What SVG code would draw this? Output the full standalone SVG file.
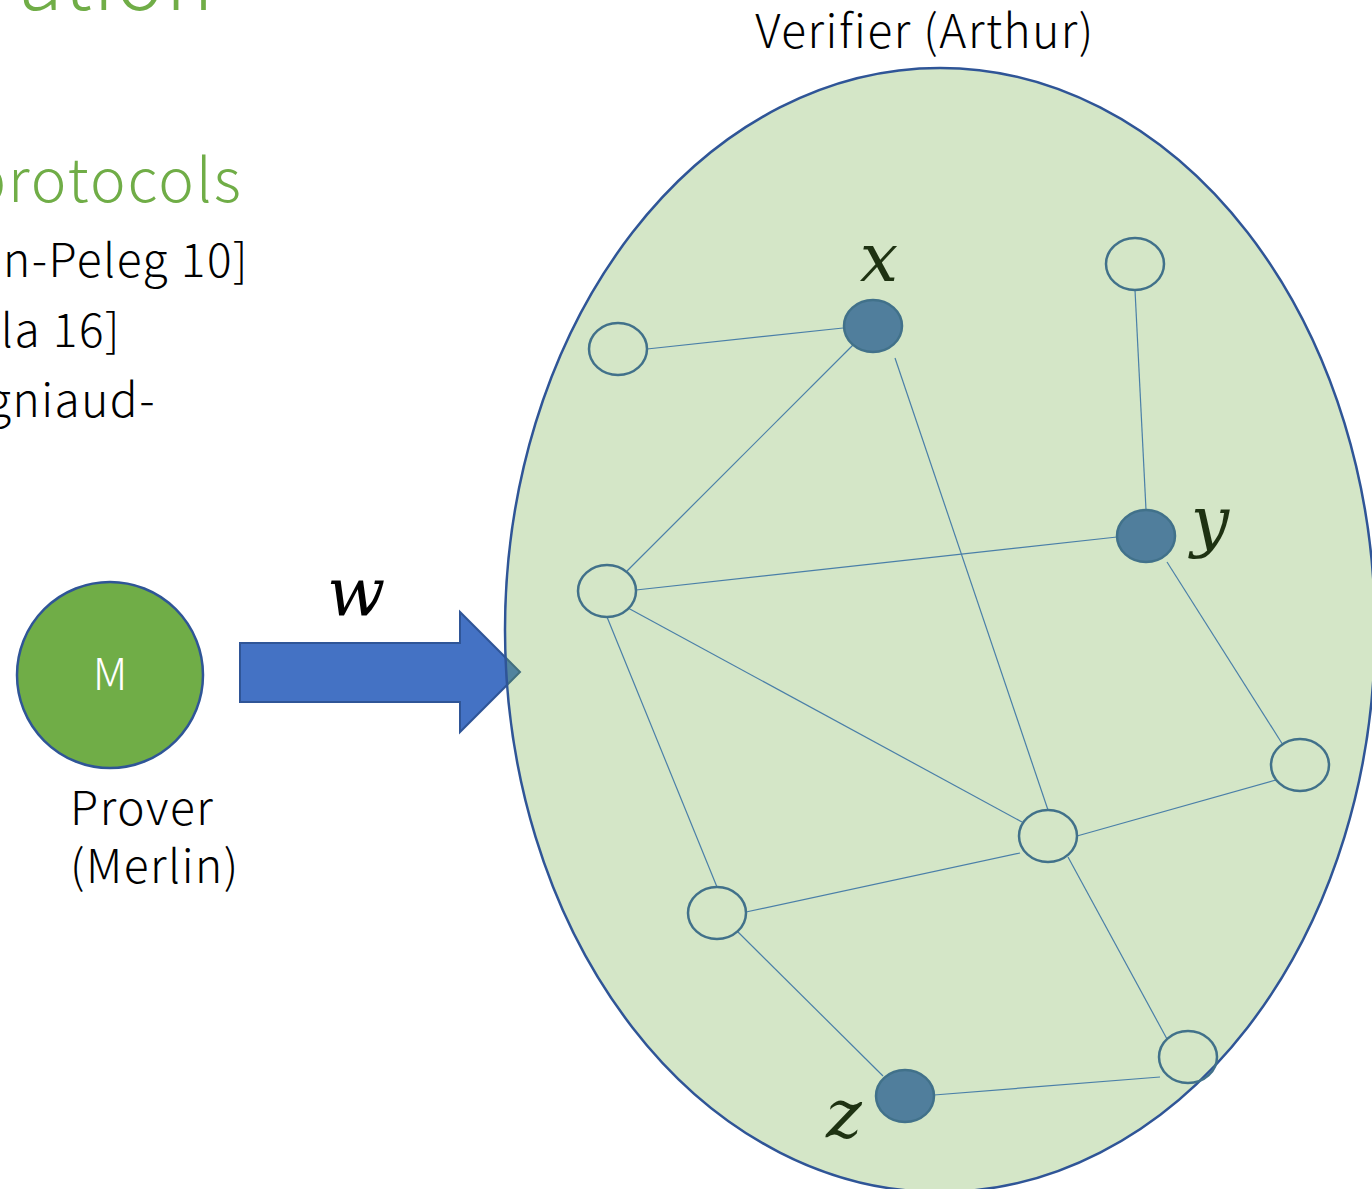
<svg xmlns="http://www.w3.org/2000/svg" width="1372" height="1189" viewBox="0 0 1372 1189">
<style>
.t{font-family:"Noto Sans CJK JP","Noto Sans",sans-serif;fill:#000;font-weight:300}
.g{font-family:"Noto Sans CJK JP","Noto Sans",sans-serif;fill:#70ad47;font-weight:300}
.m{font-family:"DejaVu Serif","Liberation Serif",serif;font-style:italic}
.e{stroke:#4a7fa8;stroke-width:1.2;fill:none}
.o{fill:none;stroke:#41718a;stroke-width:2.5}
.f{fill:#507e9c;stroke:#41718a;stroke-width:2.5}
</style>
<rect width="1372" height="1189" fill="#fff"/>
<g id="bg-text">
<text class="g" x="215" y="10" font-size="80" text-anchor="end" letter-spacing="2">ation</text>
<text class="g" x="243" y="202" font-size="60" text-anchor="end" letter-spacing="2">protocols</text>
<text class="t" x="249" y="277" font-size="46" text-anchor="end" letter-spacing="1.5">n-Peleg 10]</text>
<text class="t" x="121" y="347" font-size="46" text-anchor="end" letter-spacing="1.5">la 16]</text>
<text class="t" x="156" y="417" font-size="46" text-anchor="end" letter-spacing="1.5">gniaud-</text>
</g>
<g id="arrow">
<path d="M240,643 H460 V612 L520,672 L460,732 V702 H240 Z" fill="#4472c4" stroke="#2f5597" stroke-width="2"/>
<text class="m" x="327" y="615" font-size="68" fill="#000">w</text>
</g>
<g id="verifier">
<ellipse cx="940" cy="630" rx="435" ry="562" fill="#70ad47" fill-opacity="0.3" stroke="#2f5597" stroke-width="2.5"/>
<text class="t" x="925" y="48" font-size="46" text-anchor="middle" letter-spacing="1.5">Verifier (Arthur)</text>
</g>
<g id="prover">
<circle cx="110" cy="675" r="93" fill="#70ad47" stroke="#2f5597" stroke-width="2.5"/>
<text x="110" y="690" font-size="44" text-anchor="middle" fill="#fff" font-weight="300" font-family="Noto Sans CJK JP, Noto Sans, sans-serif">M</text>
<text class="t" x="70" y="825" font-size="46" letter-spacing="1.5">Prover</text>
<text class="t" x="70" y="883" font-size="46" letter-spacing="1.5">(Merlin)</text>
</g>
<g id="edges">
<line class="e" x1="647" y1="349" x2="843" y2="328"/>
<line class="e" x1="853" y1="345" x2="627" y2="571"/>
<line class="e" x1="895" y1="358" x2="1048" y2="810"/>
<line class="e" x1="1135" y1="290" x2="1146" y2="510"/>
<line class="e" x1="636" y1="590" x2="1117" y2="537"/>
<line class="e" x1="1167" y1="562" x2="1283" y2="745"/>
<line class="e" x1="628" y1="608" x2="1022" y2="822"/>
<line class="e" x1="607" y1="617" x2="717" y2="887"/>
<line class="e" x1="746" y1="912" x2="1020" y2="853"/>
<line class="e" x1="1077" y1="836" x2="1276" y2="780"/>
<line class="e" x1="1068" y1="857" x2="1167" y2="1039"/>
<line class="e" x1="737" y1="931" x2="883" y2="1076"/>
<line class="e" x1="934" y1="1095" x2="1160" y2="1077"/>
</g>
<g id="nA"><ellipse class="o" cx="618" cy="349" rx="29" ry="26"/></g>
<g id="nX"><ellipse class="f" cx="873" cy="326" rx="29" ry="26"/><text class="m" x="879" y="281" font-size="68" fill="#1e3212" text-anchor="middle">x</text></g>
<g id="nB"><ellipse class="o" cx="1135" cy="264" rx="29" ry="26"/></g>
<g id="nY"><ellipse class="f" cx="1146" cy="536" rx="29" ry="26"/><text class="m" x="1210" y="544" font-size="68" fill="#1e3212" text-anchor="middle">y</text></g>
<g id="nC"><ellipse class="o" cx="607" cy="591" rx="29" ry="26"/></g>
<g id="nD"><ellipse class="o" cx="1300" cy="765" rx="29" ry="26"/></g>
<g id="nE"><ellipse class="o" cx="1048" cy="836" rx="29" ry="26"/></g>
<g id="nF"><ellipse class="o" cx="717" cy="913" rx="29" ry="26"/></g>
<g id="nG"><ellipse class="o" cx="1188" cy="1057" rx="29" ry="26"/></g>
<g id="nZ"><ellipse class="f" cx="905" cy="1096" rx="29" ry="26"/><text class="m" x="844" y="1137" font-size="68" fill="#1e3212" text-anchor="middle">z</text></g>
</svg>
